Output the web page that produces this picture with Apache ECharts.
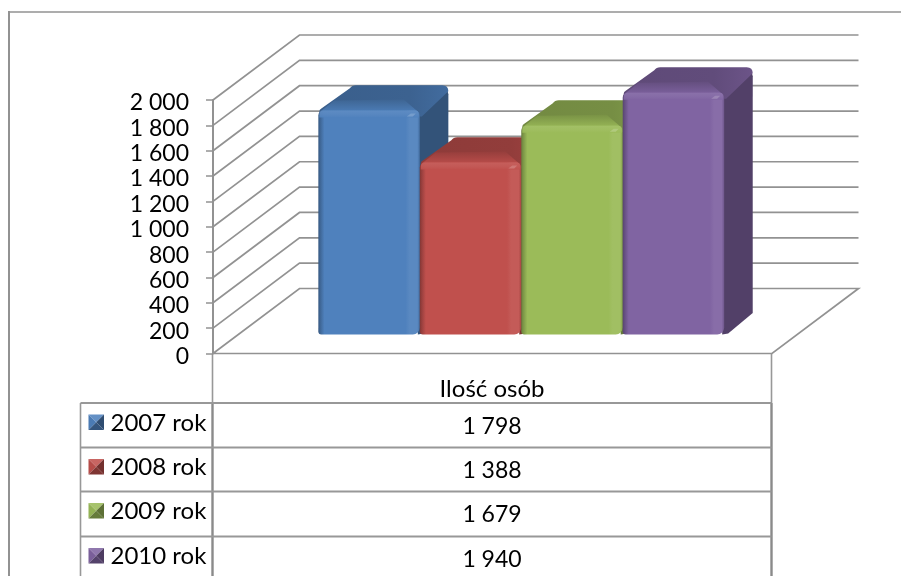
<!DOCTYPE html>
<html>
<head>
<meta charset="utf-8">
<style>
    html, body { margin: 0; padding: 0; background: #fff; }
    #main { width: 901px; height: 576px; }
</style>
<script src="https://cdn.jsdelivr.net/npm/echarts@6/dist/echarts.min.js"></script>
</head>
<body>
<div id="main"></div>
<script>
    var category = 'Ilość osób';
    var seriesNames = ['2007 rok', '2008 rok', '2009 rok', '2010 rok'];
    var seriesValues = [1798, 1388, 1679, 1940];
    var tickValues = [0, 200, 400, 600, 800, 1000, 1200, 1400, 1600, 1800, 2000];
    var tickLabels = ['0', '200', '400', '600', '800', '1 000', '1 200', '1 400', '1 600', '1 800', '2 000'];
    var colors = ['#4f81bd', '#c0504d', '#9bbb59', '#8064a2'];

    var FONT = 'Lato';
    var GRID = '#929292';
    var depthX = 86.5, depthY = 65;    // wall depth of the 3d box
    var barShift = 0.292;              // how far back the bars stand
    var barDepth = 0.33;
    var barWidth = 0.1815;             // share of the category width

    function shade(hex, f) {
        var n = parseInt(hex.slice(1), 16);
        var c = [n >> 16, (n >> 8) & 255, n & 255].map(function (v) {
            return Math.round(f > 1 ? v + (255 - v) * (f - 1) : v * f);
        });
        return 'rgb(' + c.join(',') + ')';
    }
    function grad(x0, y0, x1, y1, stops) {
        return new echarts.graphic.LinearGradient(x0, y0, x1, y1, stops.map(function (s) {
            return { offset: s[0], color: s[1] };
        }));
    }

    function renderWall(params, api) {
        var p = api.coord([0, api.value(1)]);
        var w = api.size([1, 0])[0];
        var x0 = p[0] - w / 2;
        var y = p[1];
        var points = [[x0, y], [x0 + depthX, y - depthY], [x0 + w + depthX, y - depthY]];
        if (api.value(1) === 0) {
            points = [[x0, y], [x0 + depthX, y - depthY], [x0 + w + depthX, y - depthY], [x0 + w, y], [x0, y]];
        }
        return { type: 'polyline', silent: true, shape: { points: points }, style: { fill: null, stroke: GRID, lineWidth: 1.7 } };
    }

    function renderBar(params, api) {
        var i = params.seriesIndex - 1;
        var base = colors[i];
        var p0 = api.coord([0, 0]);
        var p1 = api.coord([0, api.value(1)]);
        var w = api.size([1, 0])[0];
        var bw = w * barWidth;
        var sx = depthX * barShift, sy = depthY * barShift;
        var x0 = p0[0] + sx + (i - 2) * bw + 3.5;
        var x1 = x0 + bw;
        var yb = p0[1] - sy;
        var yt = p1[1] - sy;
        var dx = depthX * barDepth, dy = depthY * barDepth;

        var side = {
            type: 'polygon',
            shape: { points: [[x1 - 2, yt + 8], [x1 + dx - 1, yt - dy + 5], [x1 + dx, yt - dy + 9], [x1 + dx, yb - dy], [x1 + 4, yb - 1], [x1 - 2, yb]] },
            style: { fill: shade(base, 0.64) }
        };
        var top = {
            type: 'path',
            shape: {
                pathData: 'M' + (x0 + 1) + ' ' + (yt + 5) + 'Q' + (x0 + 1) + ' ' + (yt + 3) + ' ' + (x0 + 3) + ' ' + (yt + 2)
                    + 'L' + (x0 + dx + 3) + ' ' + (yt - dy + 3) + 'Q' + (x0 + dx + 5) + ' ' + (yt - dy) + ' ' + (x0 + dx + 9) + ' ' + (yt - dy)
                    + 'L' + (x1 + dx - 6) + ' ' + (yt - dy) + 'Q' + (x1 + dx) + ' ' + (yt - dy) + ' ' + (x1 + dx) + ' ' + (yt - dy + 6)
                    + 'L' + (x1 + 2) + ' ' + (yt + 10) + 'L' + (x0 + 1) + ' ' + (yt + 10) + 'Z'
            },
            style: {
                fill: grad(0, 0, 1, 0, [[0, shade(base, 0.74)], [0.7, shade(base, 0.76)], [1, shade(base, 0.84)]])
            }
        };
        var chamfer = {
            type: 'polygon',
            shape: { points: [[x0 + 2, yt + 5], [x0 + 16, yt - 6], [x1 - 16, yt - 7], [x1 - 1, yt + 6]] },
            style: { fill: grad(0, 0, 0, 1, [[0, shade(base, 0.78)], [1, shade(base, 0.98)]]) }
        };
        var front = {
            type: 'rect',
            shape: { x: x0, y: yt + 4, width: bw, height: yb - yt - 4, r: [5, 5, 7, 3] },
            style: {
                fill: grad(0, 0, 1, 0, [
                    [0, shade(base, 0.68)], [0.02, shade(base, 0.8)], [0.06, base],
                    [0.86, base], [0.9, shade(base, 1.06)], [0.975, shade(base, 1.06)], [1, shade(base, 0.86)]
                ])
            }
        };
        var bevel = {
            type: 'rect',
            shape: { x: x0 + 1, y: yt + 4, width: bw - 2, height: 7, r: [4, 4, 0, 0] },
            style: {
                fill: grad(0, 0, 0, 1, [[0, shade(base, 1.09)], [0.6, shade(base, 1.05)], [1, base]]),
                opacity: 0.9
            }
        };
        var spot = {
            type: 'polygon',
            shape: { points: [[x1 - 13, yt + 10], [x1 - 9, yt + 7], [x1 - 4, yt + 7], [x1 - 7, yt + 10]] },
            style: { fill: shade(base, 1.22) }
        };
        return { type: 'group', silent: true, children: [side, top, chamfer, front, bevel, spot] };
    }

    function buildTable() {
        var left = 80.5, axisX = 212.5, right = 771.5;
        var rows = [403, 447.5, 491.5, 536.5];
        var thin = { stroke: '#989898', lineWidth: 1.6 };
        var thick = { stroke: '#8a8a8a', lineWidth: 2.4 };
        var list = [
            { type: 'line', shape: { x1: 9, y1: 12, x2: 901, y2: 12 }, style: { stroke: GRID, lineWidth: 1.7 } },
            { type: 'line', shape: { x1: 9, y1: 11, x2: 9, y2: 576 }, style: { stroke: GRID, lineWidth: 2 } },
            { type: 'line', shape: { x1: axisX, y1: 354, x2: axisX, y2: rows[0] }, style: thin },
            { type: 'line', shape: { x1: axisX, y1: rows[0], x2: axisX, y2: 580 }, style: thick },
            { type: 'line', shape: { x1: right, y1: 354, x2: right, y2: rows[0] }, style: thin },
            { type: 'line', shape: { x1: right, y1: rows[0], x2: right, y2: 580 }, style: thick },
            { type: 'line', shape: { x1: left, y1: rows[0], x2: left, y2: 580 }, style: thin },
            { type: 'text', x: (axisX + right) / 2, y: 389, style: { text: category, font: '24px ' + FONT, fill: '#000', align: 'center', verticalAlign: 'middle' } }
        ];
        seriesNames.forEach(function (name, i) {
            var y = rows[i];
            var base = colors[i];
            var kx = 88.5, ky = y + 11.5, ks = 15.5;
            var cx = kx + ks / 2, cy = ky + ks / 2;
            list.push({ type: 'line', shape: { x1: left, y1: y, x2: right, y2: y }, style: { stroke: '#989898', lineWidth: 1.8 } });
            [[[kx, ky], [kx + ks, ky], shade(base, 1.12)],
             [[kx, ky], [kx, ky + ks], shade(base, 0.95)],
             [[kx + ks, ky], [kx + ks, ky + ks], shade(base, 0.6)],
             [[kx, ky + ks], [kx + ks, ky + ks], shade(base, 0.66)]].forEach(function (t) {
                list.push({ type: 'polygon', shape: { points: [t[0], t[1], [cx, cy]] }, style: { fill: t[2] } });
            });
            list.push({ type: 'text', x: 110.5, y: y + 20, style: { text: name, font: '24px ' + FONT, fill: '#000', align: 'left', verticalAlign: 'middle' } });
            list.push({ type: 'text', x: (axisX + right) / 2, y: y + 23.5, style: { text: formatValue(seriesValues[i]), font: '23px ' + FONT, fill: '#000', align: 'center', verticalAlign: 'middle' } });
        });
        return list;
    }

    function formatValue(v) {
        return String(v).replace(/\B(?=(\d{3})+$)/g, ' ');
    }

    var chart = echarts.init(document.getElementById('main'), null, { renderer: 'canvas' });
    var series = [{
        type: 'custom',
        name: 'walls',
        renderItem: renderWall,
        data: tickValues.map(function (v) { return [0, v]; }),
        encode: { x: 0, y: 1 },
        silent: true,
        animation: false,
        z: 1
    }];
    seriesNames.forEach(function (name, i) {
        series.push({
            type: 'custom',
            name: name,
            renderItem: renderBar,
            data: [[0, seriesValues[i]]],
            encode: { x: 0, y: 1 },
            animation: false,
            z: 2
        });
    });

    chart.setOption({
        animation: false,
        backgroundColor: '#fff',
        grid: { left: 213, top: 100, width: 559, height: 253.5 },
        xAxis: {
            type: 'category',
            data: [category],
            axisLine: { show: false },
            axisTick: { show: false },
            axisLabel: { show: false }
        },
        yAxis: {
            type: 'value',
            min: 0,
            max: 2000,
            interval: 200,
            splitLine: { show: false },
            axisLine: { show: true, lineStyle: { color: GRID, width: 2 } },
            axisTick: { show: true, length: 7, lineStyle: { color: GRID, width: 1.5 } },
            axisLabel: {
                margin: 24,
                formatter: function (v) { return '{t|' + tickLabels[tickValues.indexOf(v)] + '}'; },
                rich: {
                    t: { fontFamily: FONT, fontSize: 23, color: '#000', padding: [6, 0, 0, 0] }
                }
            }
        },
        series: series,
        graphic: buildTable()
    });
</script>
</body>
</html>
